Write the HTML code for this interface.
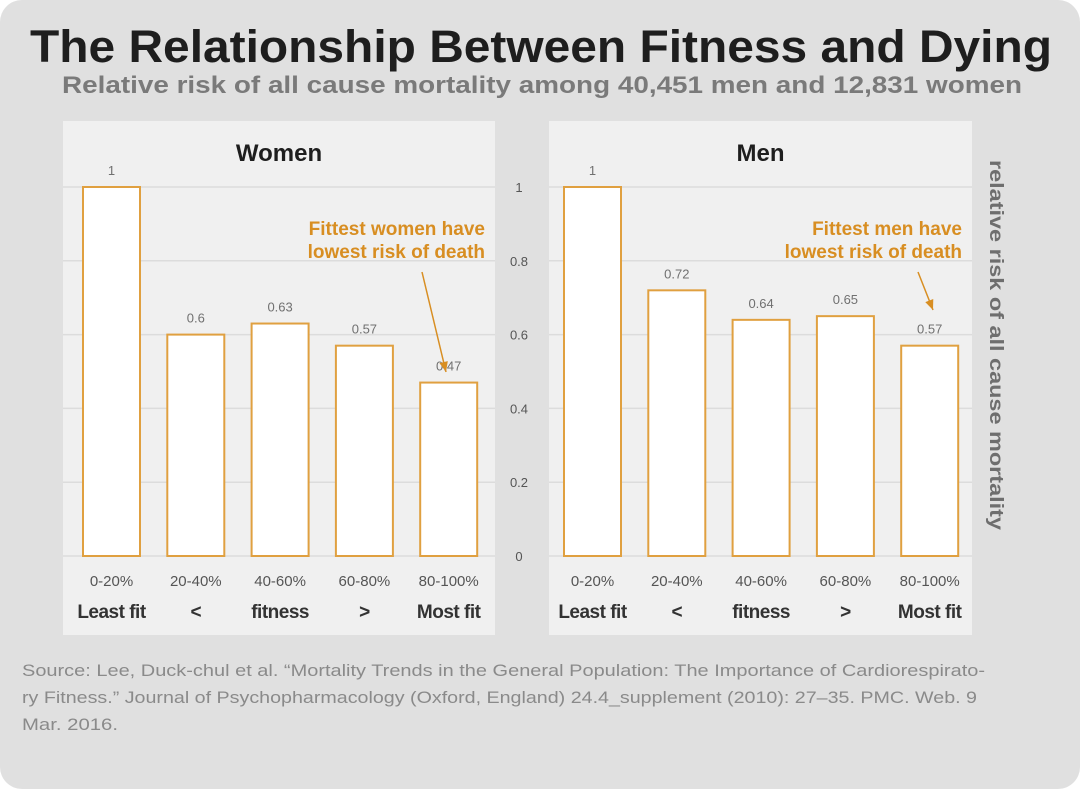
<!DOCTYPE html>
<html><head><meta charset="utf-8"><style>
body{margin:0;background:#fff;font-family:"Liberation Sans",sans-serif}
#card{position:absolute;left:0;top:0;width:1080px;height:789px;background:#e0e0e0;border-radius:22px;overflow:hidden}
svg{position:absolute;left:0;top:0}
</style></head><body>
<div id="card">
<svg id="s" width="1080" height="789">
<text x="30" y="62" textLength="1022" lengthAdjust="spacingAndGlyphs" font-size="45" font-weight="bold" fill="#1e1e1e">The Relationship Between Fitness and Dying</text>
<text x="62" y="93" textLength="960" lengthAdjust="spacingAndGlyphs" font-size="24" font-weight="bold" fill="#7a7a7a">Relative risk of all cause mortality among 40,451 men and 12,831 women</text>
<text transform="translate(990,345) rotate(90)" x="-185" y="0" textLength="370" lengthAdjust="spacingAndGlyphs" font-size="19" font-weight="bold" fill="#6e6e6e">relative risk of all cause mortality</text>
<text font-size="17" fill="#8a8a8a"><tspan x="22" y="676" textLength="963" lengthAdjust="spacingAndGlyphs">Source: Lee, Duck-chul et al. “Mortality Trends in the General Population: The Importance of Cardiorespirato-</tspan><tspan x="22" y="703" textLength="955" lengthAdjust="spacingAndGlyphs">ry Fitness.” Journal of Psychopharmacology (Oxford, England) 24.4_supplement (2010): 27–35. PMC. Web. 9</tspan><tspan x="22" y="730" textLength="96" lengthAdjust="spacingAndGlyphs">Mar. 2016.</tspan></text>
</svg>
</div>
<script>
const categories=["0-20%","20-40%","40-60%","60-80%","80-100%"];
const subLabels=["Least fit","<","fitness",">","Most fit"];
const womenValues=[1,0.6,0.63,0.57,0.47];
const menValues=[1,0.72,0.64,0.65,0.57];
const yTicks=[0,0.2,0.4,0.6,0.8,1];
const yTickLabels=["0","0.2","0.4","0.6","0.8","1"];
const NS="http://www.w3.org/2000/svg";
const s=document.getElementById('s');
function y(v){return 556-v*369;}
function mk(t,a,txt){const e=document.createElementNS(NS,t);for(const k in a)e.setAttribute(k,a[k]);if(txt!==undefined)e.textContent=txt;s.appendChild(e);return e;}
function panel(x0,w,off,name,vals,note,arrow){
  const p=mk('rect',{x:x0,y:121,width:w,height:514,fill:'#f0f0f0'});
  
  
  yTicks.forEach(v=>{const g=mk('line',{x1:x0,x2:x0+w,y1:y(v),y2:y(v),stroke:'#dcdcdc','stroke-width':1.5});
    
    });
  const t=mk('text',{x:x0+w/2,y:161,'text-anchor':'middle','font-size':24,'font-weight':'bold',fill:'#1e1e1e'},name);
  
  
  const bx0=x0+off,step=84.3,bw=57;
  vals.forEach((v,i)=>{
    const bx=bx0+i*step;
    const r=mk('rect',{x:bx,y:y(v),width:bw,height:y(0)-y(v),fill:'#fff',stroke:'#e0a040','stroke-width':2});
    
    
    const l=mk('text',{x:bx+bw/2,y:y(v)-12,'text-anchor':'middle','font-size':13,fill:'#707070'},String(v));
    
    
    const c=mk('text',{x:bx+bw/2,y:586,'text-anchor':'middle','font-size':15,fill:'#555'},categories[i]);
    
    
    const sl=mk('text',{x:bx+bw/2,y:618,'text-anchor':'middle','font-size':19,'font-weight':'bold',fill:'#333','letter-spacing':'-0.5'},subLabels[i]);
    
    
  });
  const n=mk('text',{'text-anchor':'end','font-size':19,'font-weight':'bold',fill:'#d88e22'});
  n.innerHTML='<tspan x="'+(x0+w-10)+'" y="235">'+note[0]+'</tspan><tspan x="'+(x0+w-10)+'" y="258">'+note[1]+'</tspan>';
  
  
  const a=mk('line',{x1:arrow[0],y1:arrow[1],x2:arrow[2],y2:arrow[3],stroke:'#d88e22','stroke-width':1.5});
  
  
  const ang=Math.atan2(arrow[3]-arrow[1],arrow[2]-arrow[0]);
  const hx=arrow[2],hy=arrow[3],L=11;
  const pts=[[hx,hy],[hx-L*Math.cos(ang-0.4),hy-L*Math.sin(ang-0.4)],[hx-L*Math.cos(ang+0.4),hy-L*Math.sin(ang+0.4)]];
  const h=mk('polygon',{points:pts.map(q=>q.join(',')).join(' '),fill:'#d88e22'});
  
  
}
panel(63,432,20,'Women',womenValues,['Fittest women have','lowest risk of death'],[422,272,446,372]);
panel(549,423,15,'Men',menValues,['Fittest men have','lowest risk of death'],[918,272,933,310]);
yTicks.forEach((v,i)=>{const t=mk('text',{x:519,y:y(v)+5,'text-anchor':'middle','font-size':13,fill:'#555'},yTickLabels[i]);
  
  });
</script>
</body></html>
